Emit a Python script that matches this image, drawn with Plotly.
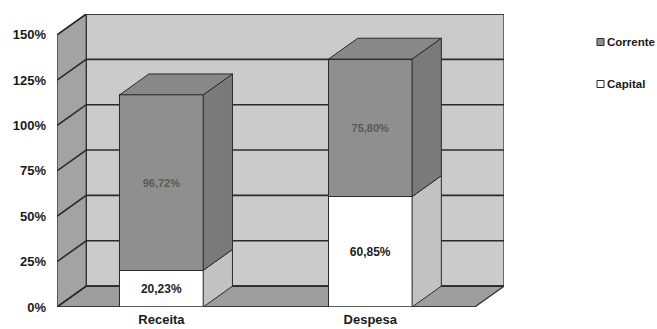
import plotly.graph_objects as go

# ---------------- data ----------------
categories = ["Receita", "Despesa"]
capital = [20.23, 60.85]
corrente = [96.72, 75.80]
capital_labels = ["20,23%", "60,85%"]
corrente_labels = ["96,72%", "75,80%"]
series_names = ["Corrente", "Capital"]
y_ticks = [0, 25, 50, 75, 100, 125, 150]
y_tick_labels = ["0%", "25%", "50%", "75%", "100%", "125%", "150%"]

# ---------------- style ----------------
W, H = 657, 329
M_L, M_R, M_T, M_B = 57, 153, 14, 22
BAR_W = 0.40
DX = 0.14      # depth offset (x units)
DY = 11.5      # depth offset (y units)
FONT = "Arial, Liberation Sans, sans-serif"
EDGE = "#2b2b2b"
BACK_WALL = "#cbcbcb"
LEFT_WALL = "#a3a3a3"
FLOOR = "#9e9e9e"
COR_FRONT = "#8f8f8f"
COR_SIDE = "#7a7a7a"
COR_TOP = "#888888"
CAP_FRONT = "#ffffff"
CAP_SIDE = "#c2c2c2"
CAP_TOP = "#e0e0e0"

x = list(range(len(categories)))
x_lo = -0.5
x_hi = len(categories) - 0.5
y_top = max(y_ticks)


def poly(points, fill, line=EDGE, width=1, layer="below"):
    path = "M " + " L ".join(f"{px},{py}" for px, py in points) + " Z"
    return dict(type="path", path=path, xref="x", yref="y", fillcolor=fill,
                line=dict(color=line, width=width), layer=layer)


shapes = []
annotations = []
# walls and floor
shapes.append(poly([(x_lo + DX, DY), (x_hi + DX, DY), (x_hi + DX, y_top + DY),
                    (x_lo + DX, y_top + DY)], BACK_WALL, width=1.2))
shapes.append(poly([(x_lo, 0), (x_lo + DX, DY), (x_lo + DX, y_top + DY),
                    (x_lo, y_top)], LEFT_WALL, width=1.2))
shapes.append(poly([(x_lo, 0), (x_hi, 0), (x_hi + DX, DY), (x_lo + DX, DY)],
                   FLOOR, width=1.2))
# gridlines (left wall + back wall)
for v in y_ticks:
    shapes.append(dict(type="path", xref="x", yref="y", layer="below",
                       path=f"M {x_lo},{v} L {x_lo + DX},{v + DY} L {x_hi + DX},{v + DY}",
                       line=dict(color=EDGE, width=1.6)))
# x axis line and tick marks
shapes.append(dict(type="line", xref="x", yref="y", x0=x_lo, x1=x_hi, y0=0, y1=0,
                   line=dict(color=EDGE, width=1.6), layer="above"))
for i in range(len(categories) + 1):
    shapes.append(dict(type="line", xref="x", yref="y", x0=x_lo + i, x1=x_lo + i,
                       ysizemode="pixel", yanchor=0, y0=0, y1=-4,
                       line=dict(color=EDGE, width=1), layer="above"))

# 3D faces of the bars (sides and tops), computed from data
for i, xi in enumerate(x):
    segs = [(0, capital[i], CAP_SIDE, CAP_TOP),
            (capital[i], capital[i] + corrente[i], COR_SIDE, COR_TOP)]
    xr = xi + BAR_W / 2
    xl = xi - BAR_W / 2
    for j, (b, t, side, top) in enumerate(segs):
        shapes.append(poly([(xr, b), (xr + DX, b + DY), (xr + DX, t + DY), (xr, t)],
                           side, layer="above"))
        if j == len(segs) - 1:
            shapes.append(poly([(xl, t), (xl + DX, t + DY), (xr + DX, t + DY), (xr, t)],
                               top, layer="above"))

# legend (drawn as small swatches + text, placed in pixel layout terms)
plot_w = W - M_L - M_R
plot_h = H - M_T - M_B
legend_items = [(series_names[0], COR_FRONT, 42), (series_names[1], CAP_FRONT, 84)]
for name, color, py in legend_items:
    x0 = (597 - M_L) / plot_w
    x1 = (604 - M_L) / plot_w
    y0 = (H - M_B - (py + 3.5)) / plot_h
    y1 = (H - M_B - (py - 3.5)) / plot_h
    shapes.append(dict(type="rect", xref="paper", yref="paper", x0=x0, x1=x1,
                       y0=y0, y1=y1, fillcolor=color,
                       line=dict(color=EDGE, width=1), layer="above"))
    annotations.append(dict(xref="paper", yref="paper", x=(605 - M_L) / plot_w,
                            y=(H - M_B - py) / plot_h, xanchor="left",
                            yanchor="middle", text=name, showarrow=False,
                            font=dict(family=FONT, size=11.5, weight="bold",
                                      color="#1a1a1a")))

fig = go.Figure()
fig.add_trace(go.Bar(
    x=x, y=capital, width=BAR_W, name=series_names[1],
    marker=dict(color=CAP_FRONT, line=dict(color=EDGE, width=1)),
    text=capital_labels, textposition="inside", insidetextanchor="middle",
    textangle=0, textfont=dict(family=FONT, size=12, color="#222222", weight="bold"),
    hoverinfo="skip"))
fig.add_trace(go.Bar(
    x=x, y=corrente, width=BAR_W, name=series_names[0],
    marker=dict(color=COR_FRONT, line=dict(color=EDGE, width=1)),
    text=corrente_labels, textposition="inside", insidetextanchor="middle",
    textangle=0, textfont=dict(family=FONT, size=11, color="#5a5a5a", weight="bold"),
    hoverinfo="skip"))

fig.update_layout(
    width=W, height=H,
    margin=dict(l=M_L, r=M_R, t=M_T, b=M_B, autoexpand=False),
    paper_bgcolor="white", plot_bgcolor="white",
    barmode="stack",
    shapes=shapes,
    annotations=annotations,
    showlegend=False,
    font=dict(family=FONT, color="#1a1a1a"),
    xaxis=dict(range=[x_lo, x_hi + DX], tickvals=x, ticktext=categories,
               showgrid=False, zeroline=False, showline=False, ticks="",
               automargin=False, ticklabelstandoff=3,
               tickfont=dict(family=FONT, size=13, weight="bold", color="#1a1a1a"),
               fixedrange=True),
    yaxis=dict(range=[0, y_top + DY], tickvals=y_ticks, ticktext=y_tick_labels,
               showgrid=False, zeroline=False, showline=False, ticks="",
               automargin=False, ticklabelstandoff=10,
               tickfont=dict(family=FONT, size=13, weight="bold", color="#1a1a1a"),
               fixedrange=True),
)

fig.write_html("out.html")
